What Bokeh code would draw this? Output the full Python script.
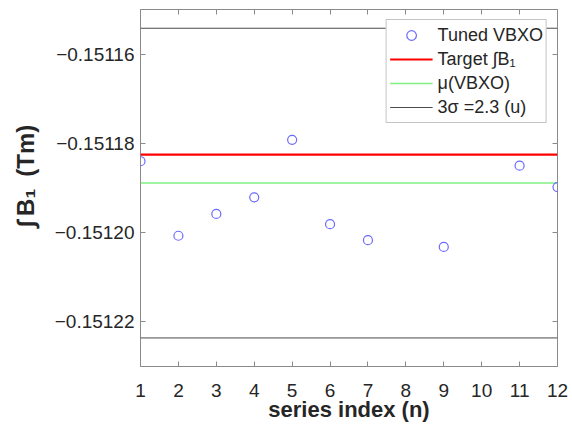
from bokeh.plotting import figure
from bokeh.models import (Range1d, FixedTicker, CustomJSTickFormatter, LinearAxis,
                          Legend, LegendItem)
from bokeh.embed import file_html
from bokeh.resources import INLINE

# ---- data ----
series_index = [1, 2, 3, 4, 5, 6, 7, 9, 11, 12]
tuned_vbxo = [-0.1511840, -0.1512007, -0.1511958, -0.1511921, -0.1511792,
              -0.1511981, -0.1512017, -0.1512032, -0.1511850, -0.1511898]
target_b1 = -0.1511825
mu_vbxo = -0.1511889
three_sigma = 0.0000347
x_ticks = list(range(1, 13))
y_ticks = [-0.15122, -0.15120, -0.15118, -0.15116]
x_limits = (1, 12)
y_limits = (-0.15123, -0.15115)

FONT = "Liberation Sans"
TXT = "#262626"
BORDER = "#8a8a8a"

p = figure(width=572, height=429, output_backend="svg", toolbar_location=None,
           x_range=Range1d(*x_limits), y_range=Range1d(*y_limits),
           min_border_left=140, min_border_right=15, min_border_top=9,
           min_border_bottom=63)
p.grid.visible = False
p.outline_line_color = BORDER
p.outline_line_width = 1
p.background_fill_color = "white"
p.border_fill_color = "white"

for ax in (p.xaxis[0], p.yaxis[0]):
    ax.major_tick_in = 5
    ax.major_tick_out = 0
    ax.minor_tick_line_color = None
    ax.axis_line_color = None
    ax.major_tick_line_color = BORDER
    ax.major_label_text_font = FONT
    ax.major_label_text_font_size = "19px"
    ax.major_label_text_color = TXT
    ax.axis_label_text_font = FONT
    ax.axis_label_text_font_size = "22px"
    ax.axis_label_text_font_style = "bold"
    ax.axis_label_text_color = TXT

p.xaxis[0].ticker = FixedTicker(ticks=x_ticks)
p.yaxis[0].ticker = FixedTicker(ticks=y_ticks)
p.yaxis[0].formatter = CustomJSTickFormatter(
    code="return tick.toFixed(5).replace('-', '\\u2212');")
p.xaxis[0].axis_label = "series index (n)"
p.yaxis[0].axis_label = "\u2003\u222b\u2009B\u2081\u2002(Tm)"
p.yaxis[0].axis_label_text_font_size = "24px"
p.xaxis[0].major_label_standoff = 17
p.xaxis[0].axis_label_standoff = -3
p.yaxis[0].major_label_standoff = 6
p.yaxis[0].axis_label_standoff = 13

# mirrored tick marks (top/right), no labels
top_ax = LinearAxis(ticker=FixedTicker(ticks=x_ticks),
                    formatter=CustomJSTickFormatter(code="return '';"))
right_ax = LinearAxis(ticker=FixedTicker(ticks=y_ticks),
                      formatter=CustomJSTickFormatter(code="return '';"))
for ax in (top_ax, right_ax):
    ax.major_tick_in = 5
    ax.major_tick_out = 0
    ax.minor_tick_line_color = None
    ax.axis_line_color = None
    ax.major_tick_line_color = BORDER
    ax.major_label_standoff = 0
p.add_layout(top_ax, "above")
p.add_layout(right_ax, "right")

# lines across the full index span
span_x = [x_limits[0], x_limits[1]]
r_target = p.line(span_x, [target_b1, target_b1], line_color="#ff0000", line_width=2.2)
r_mu = p.line(span_x, [mu_vbxo, mu_vbxo], line_color="#80f080", line_width=1.5)
r_up = p.line(span_x, [mu_vbxo + three_sigma] * 2, line_color="#4a4a4a", line_width=1)
r_lo = p.line(span_x, [mu_vbxo - three_sigma] * 2, line_color="#4a4a4a", line_width=1)

r_pts = p.scatter(series_index, tuned_vbxo, marker="circle", size=9,
                  fill_color=None, line_color="#6a6aff", line_width=1.2)

legend = Legend(items=[
    LegendItem(label="Tuned VBXO", renderers=[r_pts]),
    LegendItem(label="Target \u222bB\u2081", renderers=[r_target]),
    LegendItem(label="\u03bc(VBXO)", renderers=[r_mu]),
    LegendItem(label="3\u03c3 =2.3 (u)", renderers=[r_up]),
], location="top_right")
legend.label_text_font = FONT
legend.label_text_font_size = "18px"
legend.label_text_color = TXT
legend.label_height = 24
legend.glyph_height = 24
legend.glyph_width = 43
legend.spacing = 0
legend.padding = 3
legend.margin = 10
legend.label_standoff = 5
legend.border_line_color = BORDER
legend.background_fill_alpha = 1
p.add_layout(legend, "center")

open("out.html", "w").write(file_html(p, INLINE))
